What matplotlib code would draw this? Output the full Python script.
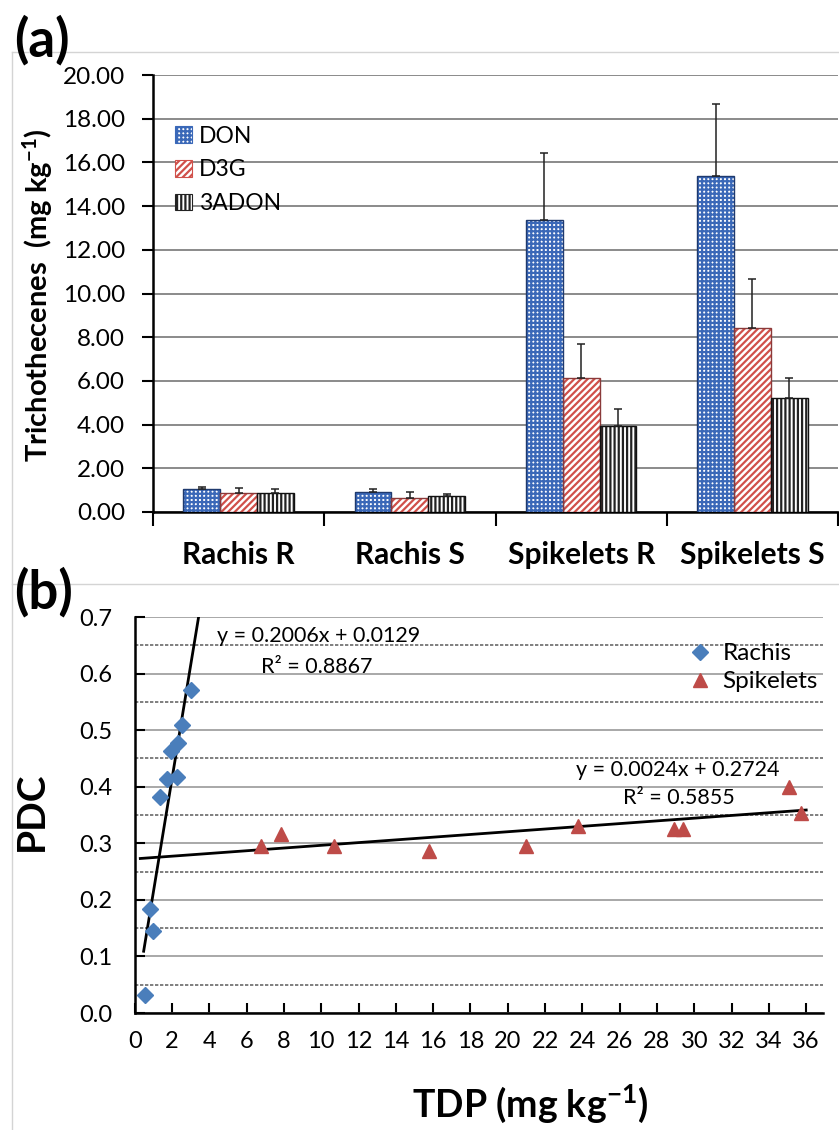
import numpy as np
import matplotlib
matplotlib.use("Agg")
import matplotlib.pyplot as plt
from matplotlib.patches import Patch
from matplotlib.lines import Line2D

plt.rcParams["font.family"] = ["Lato", "DejaVu Sans"]
plt.rcParams["mathtext.fontset"] = "custom"
plt.rcParams["mathtext.rm"] = "Lato"
plt.rcParams["mathtext.bf"] = "Lato:bold"
plt.rcParams["mathtext.default"] = "regular"
plt.rcParams["hatch.linewidth"] = 1.6

# -------------------------------------------------------
# DATA - panel (a): trichothecenes per tissue
# -------------------------------------------------------
groups = ["Rachis R", "Rachis S", "Spikelets R", "Spikelets S"]
toxins = ["DON", "D3G", "3ADON"]
don = [1.05, 0.92, 13.35, 15.40]
don_err = [0.10, 0.12, 3.10, 3.25]
d3g = [0.85, 0.65, 6.15, 8.40]
d3g_err = [0.25, 0.25, 1.55, 2.25]
adon = [0.88, 0.72, 3.95, 5.20]
adon_err = [0.15, 0.10, 0.75, 0.95]
ytick_a = [0, 2, 4, 6, 8, 10, 12, 14, 16, 18, 20]

# -------------------------------------------------------
# DATA - panel (b): PDC vs TDP
# -------------------------------------------------------
rachis_tdp = [0.55, 0.80, 0.96, 1.35, 1.74, 1.95, 2.27, 2.31, 2.55, 3.01]
rachis_pdc = [0.032, 0.183, 0.145, 0.381, 0.414, 0.464, 0.417, 0.478, 0.509, 0.571]
spik_tdp = [6.77, 7.85, 10.67, 15.78, 20.97, 23.76, 28.9, 29.4, 35.07, 35.7]
spik_pdc = [0.296, 0.317, 0.296, 0.286, 0.295, 0.330, 0.326, 0.326, 0.400, 0.354]
rachis_fit = (0.2006, 0.0129, 0.8867)
spik_fit = (0.0024, 0.2724, 0.5855)
xtick_b = list(range(0, 37, 2))
ytick_b = [0.0, 0.1, 0.2, 0.3, 0.4, 0.5, 0.6, 0.7]

W, H = 839, 1130
fig = plt.figure(figsize=(W / 100, H / 100), dpi=100)


def fx(px):
    return px / W


def fy(py):
    return 1 - py / H


# light panel frames
for y in (52, 584):
    fig.add_artist(Line2D([fx(12), 1], [fy(y), fy(y)], color="#d4d4d4", lw=1.0))
fig.add_artist(Line2D([fx(12), fx(12)], [fy(52), 0], color="#d4d4d4", lw=1.0))

# -------------------------------------------------------
# PANEL (a)
# -------------------------------------------------------
ax = fig.add_axes([fx(153), fy(512), fx(838) - fx(153), fy(75) - fy(512)])
x = np.arange(len(groups))
bw = 0.215
series = [
    (don, don_err, "++++", "#3a68b8", "#1f3a6e"),
    (d3g, d3g_err, "/////", "#d0504a", "#8a3a3a"),
    (adon, adon_err, "||||", "#222222", "#111111"),
]
handles = []
for i, (vals, errs, hatch, hc, ec) in enumerate(series):
    xs = x + (i - 1) * bw
    ax.bar(xs, vals, bw, color="white", edgecolor=hc, hatch=hatch, lw=0, zorder=3)
    ax.bar(xs, vals, bw, fill=False, edgecolor=ec, lw=1.0, zorder=4)
    ax.errorbar(xs, vals, yerr=[np.zeros(len(vals)), errs], fmt="none",
                ecolor="#222222", elinewidth=1.1, capsize=3, capthick=1.1, zorder=5)
    handles.append(Patch(facecolor="white", edgecolor=hc, hatch=hatch, lw=0.8,
                         label=toxins[i]))

ax.set_xlim(-0.5, len(groups) - 0.5)
ax.set_ylim(0, 20)
ax.set_yticks(ytick_a)
ax.set_yticklabels([f"{v:.2f}" for v in ytick_a])
ax.yaxis.grid(True, color="#8a8a8a", lw=1.4, zorder=0)
ax.set_axisbelow(True)
ax.set_xticks(np.arange(len(groups) + 1) - 0.5)
ax.set_xticklabels([])
ax.set_xticks(x, minor=True)
ax.set_xticklabels(groups, minor=True, fontsize=21.5, fontweight="bold")
ax.tick_params(axis="x", which="major", direction="out", length=10, width=1.5)
ax.tick_params(axis="x", which="minor", length=0, pad=21)
ax.tick_params(axis="y", direction="out", length=8, width=1.5, labelsize=17.5, pad=12)
for s in ("top", "right"):
    ax.spines[s].set_visible(False)
for s in ("left", "bottom"):
    ax.spines[s].set_linewidth(1.8)
ax.set_ylabel("Trichothecenes  (mg kg$^{-1}$)", fontsize=21, fontweight="bold")
ax.yaxis.set_label_coords(-0.143, 0.495)
ax.legend(handles=handles, loc="upper left", bbox_to_anchor=(0.015, 0.91),
          frameon=False, fontsize=16.5, handlelength=0.75, handleheight=0.75,
          handletextpad=0.3, labelspacing=0.55, borderpad=0)

fig.text(fx(42), fy(40), "(a)", fontsize=38, fontweight="bold", ha="center", va="center")

# -------------------------------------------------------
# PANEL (b)
# -------------------------------------------------------
bx = fig.add_axes([fx(134.7), fy(1013), fx(823) - fx(134.7), fy(617) - fy(1013)])
bx.set_xlim(0, 36.9)
bx.set_ylim(0, 0.7)
bx.set_xticks(xtick_b)
bx.set_yticks(ytick_b)
bx.set_yticklabels([f"{v:.1f}" for v in ytick_b])
bx.set_yticks(np.array(ytick_b[:-1]) + 0.05, minor=True)
bx.yaxis.grid(True, which="major", color="#9a9a9a", lw=1.2, zorder=0)
bx.yaxis.grid(True, which="minor", color="#6a6a6a", lw=1.2, ls=(0, (2, 1)), zorder=0)
bx.set_axisbelow(True)
bx.tick_params(axis="x", direction="in", length=7, width=1.5, labelsize=17, pad=13)
bx.tick_params(axis="y", which="major", direction="in", length=7, width=1.5,
               labelsize=17, pad=16)
bx.tick_params(axis="y", which="minor", length=0)
for s in ("top", "right"):
    bx.spines[s].set_visible(False)
for s in ("left", "bottom"):
    bx.spines[s].set_linewidth(1.8)

bx.plot(rachis_tdp, rachis_pdc, ls="none", marker="D", ms=8, color="#4a7ebb",
        label="Rachis", zorder=4)
bx.plot(spik_tdp, spik_pdc, ls="none", marker="^", ms=10, color="#be4b48",
        label="Spikelets", zorder=4)

a1, b1, r1 = rachis_fit
xr = np.array([0.48, 3.7])
bx.plot(xr, a1 * xr + b1, color="black", lw=2, zorder=3, clip_on=True)
a2, b2, r2 = spik_fit
xs2 = np.array([0.3, 36.0])
bx.plot(xs2, a2 * xs2 + b2, color="black", lw=2, zorder=3)

bx.text(9.85, 0.667, f"y = {a1:.4f}x + {b1:.4f}", fontsize=15.5, ha="center", va="center")
bx.text(9.78, 0.612, f"R² = {r1:.4f}", fontsize=15.5, ha="center", va="center")
bx.text(29.1, 0.43, f"y = {a2:.4f}x + {b2:.4f}", fontsize=15.5, ha="center", va="center")
bx.text(29.15, 0.38, f"R² = {r2:.4f}", fontsize=15.5, ha="center", va="center")

bx.legend(loc="upper right", bbox_to_anchor=(1.01, 0.965), frameon=False,
          fontsize=17.5, handlelength=1.0, handletextpad=0.4, labelspacing=0.3,
          borderpad=0)

bx.set_ylabel("PDC", fontsize=28, fontweight="bold")
bx.yaxis.set_label_coords(-0.125, 0.51)
bx.set_xlabel("TDP (mg kg$^{-1}$)", fontsize=27, fontweight="bold")
bx.xaxis.set_label_coords(0.574, -0.175)

fig.text(fx(44), fy(592), "(b)", fontsize=38, fontweight="bold", ha="center", va="center")

fig.savefig("out.png", dpi=100)
